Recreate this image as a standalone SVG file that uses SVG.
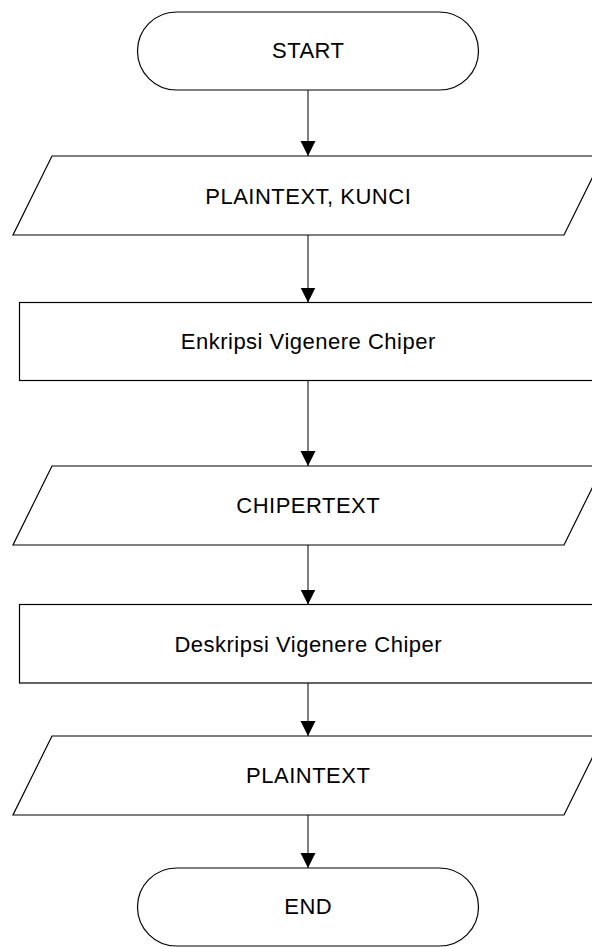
<svg xmlns="http://www.w3.org/2000/svg" width="592" height="947" viewBox="0 0 592 947">
<style>
.shape{fill:#fff;stroke:#000;stroke-width:1.2}
.lbl{font-family:"Liberation Sans",Arial,sans-serif;font-size:22px;letter-spacing:0.5px;fill:#000;text-anchor:middle}
.conn{stroke:#000;stroke-width:1;fill:none}
</style>
<defs>
<marker id="ah" markerUnits="userSpaceOnUse" markerWidth="16" markerHeight="16" viewBox="0 0 16 16" refX="15" refY="8" orient="auto">
<path d="M0,0.5 L15,8 L0,15.5 Z" fill="#000"/>
</marker>
</defs>
<rect width="592" height="947" fill="#fff"/>
<g id="connectors">
<line class="conn" x1="308" y1="90" x2="308" y2="156" marker-end="url(#ah)"/>
<line class="conn" x1="308" y1="235" x2="308" y2="302.5" marker-end="url(#ah)"/>
<line class="conn" x1="308" y1="380.5" x2="308" y2="466" marker-end="url(#ah)"/>
<line class="conn" x1="308" y1="545" x2="308" y2="604.5" marker-end="url(#ah)"/>
<line class="conn" x1="308" y1="683" x2="308" y2="736" marker-end="url(#ah)"/>
<line class="conn" x1="308" y1="815" x2="308" y2="868" marker-end="url(#ah)"/>
</g>
<g id="start">
<rect class="shape" x="137.5" y="12" width="341" height="78" rx="39" ry="39"/>
<text class="lbl" x="308.25" y="58">START</text>
</g>
<g id="input">
<polygon class="shape" points="52,156 603,156 564,235 13,235"/>
<text class="lbl" x="308.25" y="203.5">PLAINTEXT, KUNCI</text>
</g>
<g id="enkripsi">
<rect class="shape" x="19.5" y="302.5" width="578" height="78"/>
<text class="lbl" x="308.25" y="349">Enkripsi Vigenere Chiper</text>
</g>
<g id="chipertext">
<polygon class="shape" points="52,466 603,466 564,545 13,545"/>
<text class="lbl" x="308.25" y="513">CHIPERTEXT</text>
</g>
<g id="deskripsi">
<rect class="shape" x="19.5" y="604.5" width="578" height="78.5"/>
<text class="lbl" x="308.25" y="651.5">Deskripsi Vigenere Chiper</text>
</g>
<g id="plaintext">
<polygon class="shape" points="52,736 603,736 564,815 13,815"/>
<text class="lbl" x="308.25" y="783">PLAINTEXT</text>
</g>
<g id="end">
<rect class="shape" x="137.5" y="868" width="341" height="78" rx="39" ry="39"/>
<text class="lbl" x="308.25" y="914">END</text>
</g>
</svg>
